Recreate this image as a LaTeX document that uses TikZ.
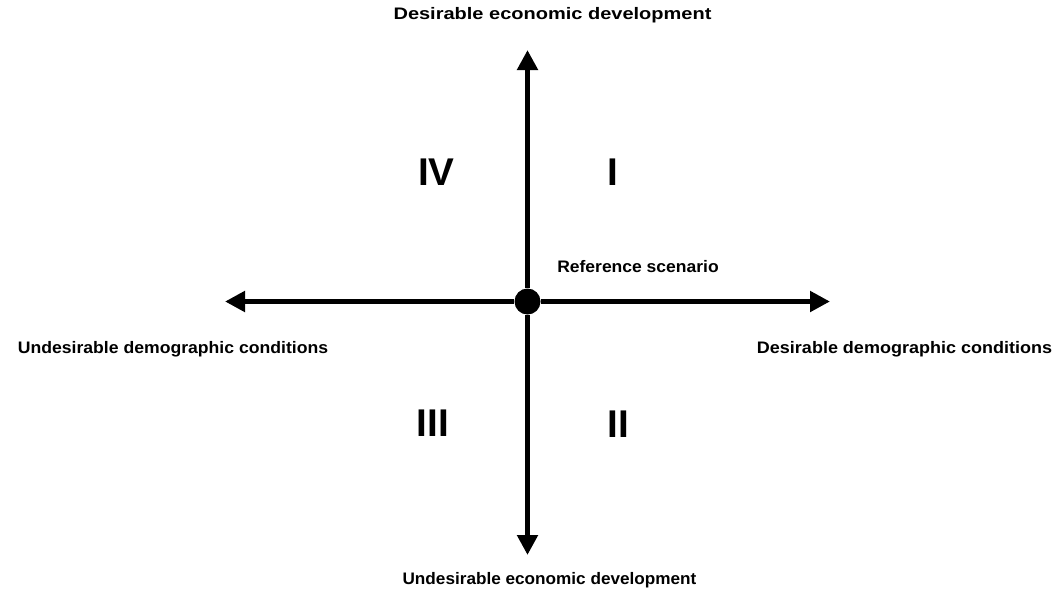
\documentclass[tikz,border=0pt]{standalone}
\usepackage{fontspec}
\setmainfont{Liberation Sans}
\usetikzlibrary{arrows.meta}
\usetikzlibrary{positioning}

\tikzset{
	axis/.style={line width=3.9pt,-{Triangle[length=15pt,width=15pt]}},
	lbl/.style={font=\fontsize{12.5}{14}\selectfont\bfseries,transform shape,inner sep=0pt,anchor=base},
	quad/.style={font=\fontsize{29}{30}\selectfont\bfseries,inner sep=0pt}
}

\begin{document}
\begin{tikzpicture}
	[x=0.75pt,y=-0.75pt]
	\useasboundingbox (0,0) rectangle (1054,594);
	% axes
	\node[circle,fill=black,minimum size=19.5pt,inner sep=0pt] (ref) at (527.5,301.5) {};
	\coordinate (top) at (527.5,50);
	\coordinate (bot) at (527.5,555);
	\coordinate (lft) at (225,301.5);
	\coordinate (rgt) at (830,301.5);
	\draw[axis] (ref) -- (top);
	\draw[axis] (ref) -- (bot);
	\draw[axis] (ref) -- (lft);
	\draw[axis] (ref) -- (rgt);
	% labels
	\node[lbl,xscale=1.2] (ecoup) at (552.5,19) {Desirable economic development};
	\node[lbl,xscale=1.03] (ecodown) at (549.5,584) {Undesirable economic development};
	\node[lbl,xscale=1.057] (demleft) at (173,353) {Undesirable demographic conditions};
	\node[lbl,xscale=1.08] (demright) at (904.5,353) {Desirable demographic conditions};
	\node[lbl,xscale=1.05,anchor=base west] (reflbl) at (557,272) {Reference scenario};
	% quadrants
	\node[quad] (q1) at (612.5,172) {I};
	\node[quad] (q2) at (618,424) {II};
	\node[quad] (q3) at (433,423) {III};
	\node[quad] (q4) at (436.5,172) {IV};
\end{tikzpicture}
\end{document}
